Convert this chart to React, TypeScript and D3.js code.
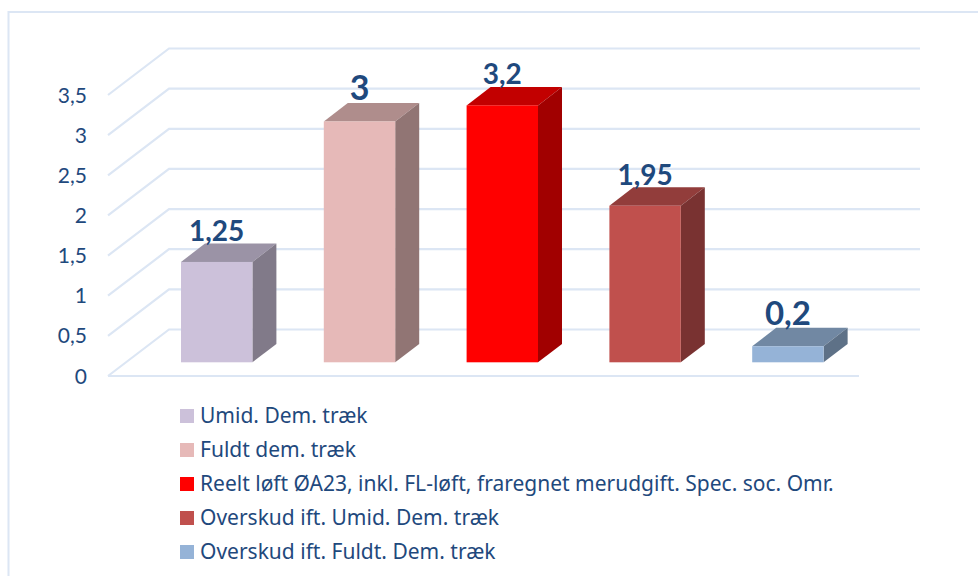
import React, { useRef, useEffect } from 'react';
import * as d3 from 'd3';

const categories = [
  'Umid. Dem. træk',
  'Fuldt dem. træk',
  'Reelt løft ØA23, inkl. FL-løft, fraregnet merudgift. Spec. soc. Omr.',
  'Overskud ift. Umid. Dem. træk',
  'Overskud ift. Fuldt. Dem. træk',
];
const values = [1.25, 3, 3.2, 1.95, 0.2];
const tickValues = [0, 0.5, 1, 1.5, 2, 2.5, 3, 3.5];
const barColors = ['#CCC1DA', '#E6B9B8', '#FF0000', '#C0504D', '#95B3D7'];
const labelSizes = [28, 34, 28, 28, 33];

const textColor = '#1F497D';
const gridColor = '#DCE6F4';
const font = 'Lato, sans-serif';
const legendFont = '"Noto Sans", sans-serif';

// wall/floor offset of the fake 3D box
const wallDx = 61;
const wallDy = -46.5;
const barDx = 24;
const barDy = -18.4;

const shade = (c: string, k: number) => {
  const { r, g, b } = d3.rgb(c);
  return d3.rgb(r * k, g * k, b * k).formatHex();
};

const App = () => {
  const svgRef = useRef<SVGSVGElement>(null);

  useEffect(() => {
    const svg = d3.select(svgRef.current);
    svg.selectAll('*').remove();

    const comma = d3.formatLocale({
      decimal: ',',
      thousands: '.',
      grouping: [3],
      currency: ['', ''],
    }).format('~g');

    const x = d3.scaleBand<string>()
      .domain(categories)
      .range([145.3, 859.3])
      .paddingInner(0.5)
      .paddingOuter(0.25);
    const yAxis = d3.scaleLinear().domain([0, 3.5]).range([376, 95]);
    const yBar = d3.scaleLinear().domain([0, 3.5]).range([362.3, 81.3]);
    const yLegend = d3.scaleLinear().domain([0, 4]).range([416, 552]);

    // outer frame, cut off by the picture at right and bottom
    svg.append('path')
      .attr('d', 'M8.5,576V12H978')
      .attr('fill', 'none')
      .attr('stroke', gridColor)
      .attr('stroke-width', 2);

    const grid = svg.append('g').attr('fill', 'none').attr('stroke', gridColor).attr('stroke-width', 2.2);
    grid.selectAll('path')
      .data(tickValues)
      .join('path')
      .attr('d', d => {
        const front = yAxis(d);
        return `M108,${front}L${108 + wallDx},${front + wallDy}H920`;
      });
    grid.append('line')
      .attr('x1', 108).attr('x2', 859)
      .attr('y1', yAxis(0)).attr('y2', yAxis(0));

    svg.append('g')
      .selectAll('text')
      .data(tickValues)
      .join('text')
      .attr('x', 87)
      .attr('y', d => yAxis(d))
      .attr('dy', '0.36em')
      .attr('text-anchor', 'end')
      .attr('font-family', font)
      .attr('font-size', 21)
      .attr('fill', textColor)
      .text(d => comma(d));

    const bars = svg.append('g')
      .selectAll('g')
      .data(categories)
      .join('g');

    const left = (_: string, i: number) => x(categories[i]) as number;
    const w = x.bandwidth();

    bars.append('path')
      .attr('fill', (_, i) => shade(barColors[i], 0.76))
      .attr('d', (d, i) => {
        const t = yBar(values[i]);
        const l = left(d, i);
        return `M${l},${t}l${barDx},${barDy}h${w}l${-barDx},${-barDy}Z`;
      });

    bars.append('path')
      .attr('fill', (_, i) => shade(barColors[i], 0.63))
      .attr('d', (d, i) => {
        const t = yBar(values[i]);
        const r = left(d, i) + w;
        return `M${r},${t}l${barDx},${barDy}V${yBar(0) + barDy}L${r},${yBar(0)}Z`;
      });

    bars.append('rect')
      .attr('x', left)
      .attr('y', (_, i) => yBar(values[i]))
      .attr('width', w)
      .attr('height', (_, i) => yBar(0) - yBar(values[i]))
      .attr('fill', (_, i) => barColors[i]);

    bars.append('text')
      .attr('x', (d, i) => left(d, i) + w / 2)
      .attr('y', (_, i) => yBar(values[i]) - 21)
      .attr('text-anchor', 'middle')
      .attr('font-family', font)
      .attr('font-weight', 700)
      .attr('font-size', (_, i) => labelSizes[i])
      .attr('fill', textColor)
      .text((_, i) => comma(values[i]));

    const legend = svg.append('g')
      .selectAll('g')
      .data(categories)
      .join('g')
      .attr('transform', (_, i) => `translate(180,${yLegend(i)})`);

    legend.append('rect')
      .attr('y', -7)
      .attr('width', 14)
      .attr('height', 14)
      .attr('fill', (_, i) => barColors[i]);

    legend.append('text')
      .attr('x', 20)
      .attr('y', 7)
      .attr('font-family', legendFont)
      .attr('font-size', 21)
      .attr('fill', textColor)
      .text(d => d);
  }, []);

  return (
    <svg
      ref={svgRef}
      width={978}
      height={576}
      style={{ position: 'absolute', left: 0, top: 0, display: 'block', background: '#fff' }}
    />
  );
};

export default App;
